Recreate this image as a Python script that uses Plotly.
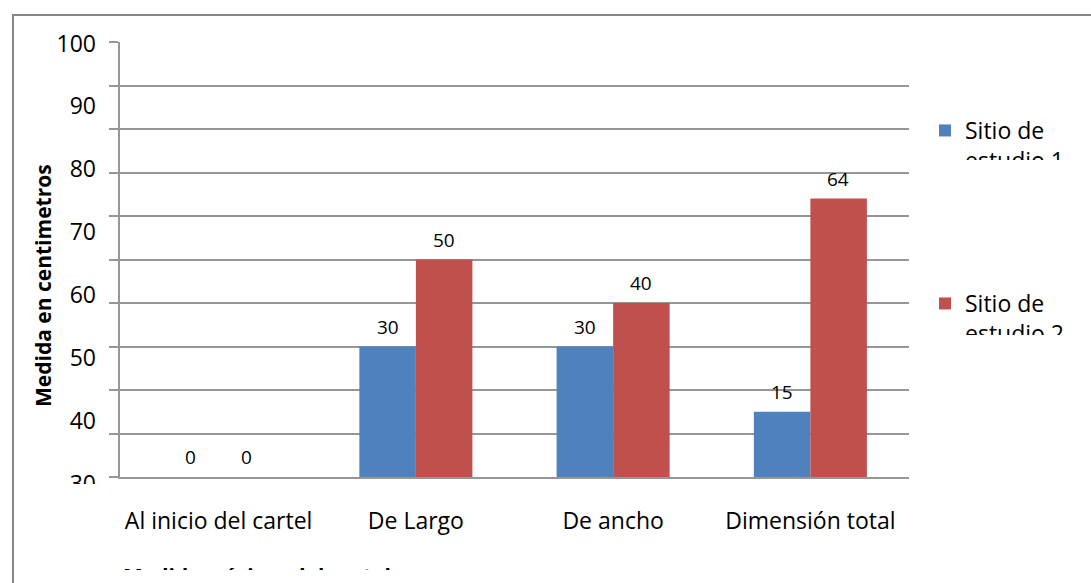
import plotly.graph_objects as go

# ---------------- data ----------------
categories = ["Al inicio del cartel", "De Largo", "De ancho", "Dimensión total"]
sitio1 = [0, 30, 30, 15]
sitio2 = [0, 50, 40, 64]
series_names = ["Sitio de<br>estudio 1", "Sitio de<br>estudio 2"]
ytick_labels = [30, 40, 50, 60, 70, 80, 90, 100]
y_title = "Medida en centimetros"
x_title = "Medida mínima del cartel"

# ---------------- layout helpers ----------------
W, H = 1091, 583
L, R, T, B = 120, 909, 42, 492      # plot-area pixel box
BASE = 477                          # pixel row of the x baseline
FONT = "Open Sans"
GRID = "#969696"
BLUE, RED = "#4F81BD", "#C0504D"


def xp(px):
    return (px - L) / (R - L)


def yp(py):
    return (B - py) / (B - T)


fig = go.Figure()
fig.add_trace(go.Bar(x=categories, y=sitio1, name=series_names[0],
                     marker=dict(color=BLUE, line=dict(width=0)),
                     legend="legend", hoverinfo="skip"))
fig.add_trace(go.Bar(x=categories, y=sitio2, name=series_names[1],
                     marker=dict(color=RED, line=dict(width=0)),
                     legend="legend2", hoverinfo="skip"))

annotations = []
for vals, shift in ((sitio1, -28), (sitio2, 28)):
    for c, v in zip(categories, vals):
        annotations.append(dict(x=c, y=v, xref="x", yref="y", text=str(v),
                                showarrow=False, xshift=shift, yshift=20,
                                yanchor="middle",
                                font=dict(family=FONT, size=19, color="#000")))

# y-axis title (placed as in the reference, below centre)
annotations.append(dict(x=xp(43), y=yp(286), xref="paper", yref="paper",
                        text=f"<b>{y_title}</b>", textangle=-90, showarrow=False,
                        xanchor="center", yanchor="middle",
                        font=dict(family=FONT, size=21, color="#000")))
# x-axis title (cut off at the bottom in the reference)
annotations.append(dict(x=xp(121), y=yp(576), xref="paper", yref="paper",
                        text=f"<b>{x_title}</b>", showarrow=False,
                        xanchor="left", yanchor="middle",
                        font=dict(family=FONT, size=21, color="#000")))

# white masks reproducing the clipped texts of the reference
def mask(x0, y0, x1, y1):
    return dict(x=xp(x0), y=yp(y0), xref="paper", yref="paper", text=" ",
                showarrow=False, xanchor="left", yanchor="top",
                width=x1 - x0, height=y1 - y0, borderpad=0, borderwidth=0,
                bgcolor="white")

annotations.append(mask(115, 570, 720, 583))
annotations.append(mask(958, 160, 1091, 195))
annotations.append(mask(958, 335, 1091, 370))

fig.update_layout(
    width=W, height=H,
    margin=dict(l=L, r=W - R, t=T, b=H - B, pad=0, autoexpand=False),
    paper_bgcolor="white", plot_bgcolor="rgba(0,0,0,0)",
    barmode="group", bargap=0.427, bargroupgap=0,
    font=dict(family=FONT, size=23, color="#000"),
    xaxis=dict(anchor="y", showgrid=False, zeroline=False,
               showline=True, linecolor=GRID, linewidth=2,
               ticks="", ticklabelstandoff=22,
               tickfont=dict(family=FONT, size=23, color="#000")),
    yaxis=dict(domain=[yp(BASE), 1], range=[0, 100], dtick=10,
               showgrid=True, gridcolor=GRID, gridwidth=2,
               zeroline=False, showline=True, linecolor=GRID, linewidth=2,
               ticks="outside", ticklen=9, tickwidth=2, tickcolor=GRID,
               showticklabels=False),
    yaxis2=dict(domain=[0, 1], anchor="free", position=0, side="left",
                range=[28.78, 100.23], tickvals=ytick_labels,
                ticktext=[str(v) for v in ytick_labels],
                showgrid=False, zeroline=False, showline=False, ticks="",
                ticklabelstandoff=24,
                tickfont=dict(family=FONT, size=23, color="#000")),
    legend=dict(x=xp(925), y=yp(109), xanchor="left", yanchor="top",
                valign="top", bgcolor="rgba(0,0,0,0)", borderwidth=0,
                font=dict(family=FONT, size=23, color="#000")),
    legend2=dict(x=xp(925), y=yp(282), xanchor="left", yanchor="top",
                 valign="top", bgcolor="rgba(0,0,0,0)", borderwidth=0,
                 font=dict(family=FONT, size=23, color="#000")),
    showlegend=True,
    annotations=annotations,
    shapes=[
        # outer chart border, running off the right and bottom edges
        dict(type="rect", xref="paper", yref="paper", layer="below",
             x0=xp(13), x1=xp(1100), y0=yp(15), y1=yp(600),
             line=dict(color="#868686", width=2), fillcolor="rgba(0,0,0,0)"),
        # clip the lowest tick label like the reference
        dict(type="rect", xref="paper", yref="paper", layer="above",
             x0=xp(40), x1=xp(107), y0=yp(484), y1=yp(500),
             line=dict(width=0), fillcolor="white"),
    ],
)

# attach an invisible helper so the secondary (label) axis is drawn
fig.add_trace(go.Scatter(x=[categories[0]], y=[ytick_labels[0]], yaxis="y2",
                         mode="markers", marker=dict(opacity=0),
                         showlegend=False, hoverinfo="skip"))

fig.write_html("out.html", include_plotlyjs=True, config={"displayModeBar": False})
